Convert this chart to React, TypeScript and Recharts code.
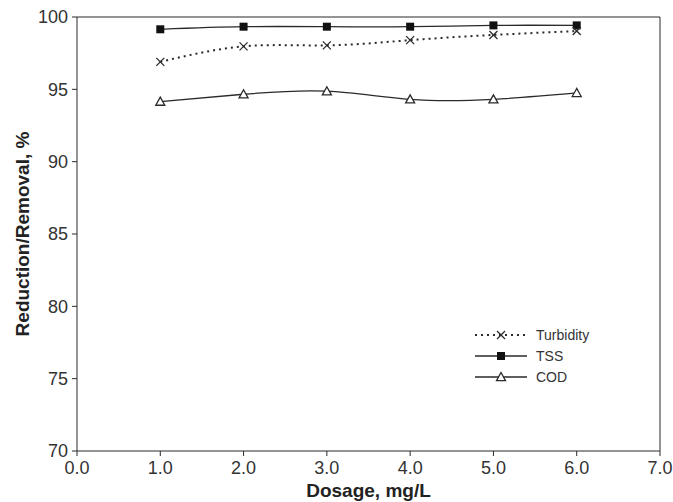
import React from 'react';
import { LineChart, Line, XAxis, YAxis, ReferenceLine } from 'recharts';

const dosage = [1, 2, 3, 4, 5, 6];
const turbidity = [96.9, 97.97, 98.04, 98.4, 98.76, 99.03];
const tss = [99.15, 99.33, 99.33, 99.33, 99.42, 99.42];
const cod = [94.15, 94.66, 94.87, 94.31, 94.31, 94.75];
const xTicks = [0, 1, 2, 3, 4, 5, 6, 7];
const yTicks = [70, 75, 80, 85, 90, 95, 100];

const data = dosage.map((d, i) => ({ dosage: d, turbidity: turbidity[i], tss: tss[i], cod: cod[i] }));

const INK = '#2a2a2a';
const TXT = '#333';
const FONT = '"Liberation Sans", Arial, sans-serif';

const CrossDot = (p: any) => {
  const { cx, cy } = p;
  if (cx == null || cy == null) return null;
  const s = 4;
  return (
    <g>
      <line x1={cx - s} y1={cy - s} x2={cx + s} y2={cy + s} stroke={INK} strokeWidth={1.3} />
      <line x1={cx - s} y1={cy + s} x2={cx + s} y2={cy - s} stroke={INK} strokeWidth={1.3} />
    </g>
  );
};
const SquareDot = (p: any) => {
  const { cx, cy } = p;
  if (cx == null || cy == null) return null;
  return <rect x={cx - 4} y={cy - 4} width={8} height={8} fill="#111" />;
};
const TriDot = (p: any) => {
  const { cx, cy } = p;
  if (cx == null || cy == null) return null;
  const s = 4.5;
  return (
    <polygon
      points={`${cx},${cy - s} ${cx - s},${cy + s * 0.8} ${cx + s},${cy + s * 0.8}`}
      fill="#fff"
      stroke={INK}
      strokeWidth={1.3}
    />
  );
};

const legendItems = [
  { name: 'Turbidity', dash: '2 4', width: 2, Dot: CrossDot },
  { name: 'TSS', dash: undefined, width: 1.3, Dot: SquareDot },
  { name: 'COD', dash: undefined, width: 1.3, Dot: TriDot },
];

const LegendBox = () => (
  <div style={{ position: 'absolute', left: 475, top: 324, fontFamily: FONT, fontSize: 14, color: TXT }}>
    {legendItems.map((it) => (
      <div key={it.name} style={{ display: 'flex', alignItems: 'center', height: 21 }}>
        <svg width={61} height={16} style={{ display: 'block' }}>
          <line x1={0} y1={8} x2={52} y2={8} stroke={INK} strokeWidth={it.width} strokeDasharray={it.dash} />
          <it.Dot cx={26} cy={8} />
        </svg>
        <span>{it.name}</span>
      </div>
    ))}
  </div>
);

const YLabel = (props: any) => {
  const vb = props.viewBox || {};
  const x = 22;
  const y = (vb.y || 0) + (vb.height || 0) / 2;
  return (
    <text x={x} y={y} transform={`rotate(-90 ${x} ${y})`} textAnchor="middle" dominantBaseline="central"
      fontFamily={FONT} fontSize={19} fontWeight="bold" fill="#222">
      Reduction/Removal, %
    </text>
  );
};
const XLabel = (props: any) => {
  const vb = props.viewBox || {};
  const x = (vb.x || 0) + (vb.width || 0) / 2;
  return (
    <text x={x} y={497} textAnchor="middle" fontFamily={FONT} fontSize={19} fontWeight="bold" fill="#222">
      Dosage, mg/L
    </text>
  );
};

export default function App() {
  return (
    <div style={{ position: 'absolute', left: 0, top: 0, width: 673, height: 502, background: '#fff' }}>
      <LineChart width={673} height={502} data={data} margin={{ top: 17, right: 13, left: 0, bottom: 0 }}>
        <XAxis
          dataKey="dosage"
          type="number"
          domain={[0, 7]}
          ticks={xTicks}
          tickFormatter={(v: number) => v.toFixed(1)}
          height={51}
          stroke={INK}
          tickSize={5}
          tickMargin={5}
          tick={{ fill: TXT, fontFamily: FONT, fontSize: 18 }}
          label={{ content: XLabel }}
        />
        <YAxis
          type="number"
          domain={[70, 100]}
          ticks={yTicks}
          width={77}
          stroke={INK}
          tickSize={5}
          tickMargin={4}
          tick={{ fill: TXT, fontFamily: FONT, fontSize: 18 }}
          label={{ content: YLabel }}
        />
        <ReferenceLine y={100} stroke={INK} strokeWidth={1} />
        <ReferenceLine x={7} stroke={INK} strokeWidth={1} />
        <Line type="natural" dataKey="cod" stroke={INK} strokeWidth={1.3} dot={TriDot} isAnimationActive={false} />
        <Line type="natural" dataKey="tss" stroke={INK} strokeWidth={1.3} dot={SquareDot} isAnimationActive={false} />
        <Line type="natural" dataKey="turbidity" stroke={INK} strokeWidth={2} strokeDasharray="2 4" dot={CrossDot} isAnimationActive={false} />
      </LineChart>
      <LegendBox />
    </div>
  );
}
